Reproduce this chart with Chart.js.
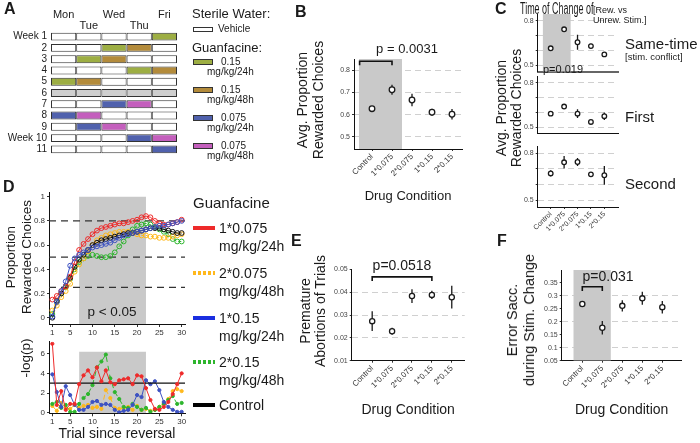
<!DOCTYPE html>
<html>
<head>
<meta charset="utf-8">
<script src="https://cdn.jsdelivr.net/npm/chart.js@4.4.1/dist/chart.umd.min.js"></script>
<style>
body { margin: 0; background: #fff; }
#fig { position: relative; width: 700px; height: 443px; overflow: hidden; font-family: 'Liberation Sans', Arial, sans-serif; color: #1a1a1a; }
.t { position: absolute; white-space: nowrap; line-height: 1; }
.sw { position: absolute; box-sizing: border-box; }
canvas { position: absolute; }
</style>
</head>
<body>
<div id="fig"></div>
<script>
// ---- data ----
const drugs = ['Control', '1*0.075', '2*0.075', '1*0.15', '2*0.15'];

// A: dosing schedule (v vehicle, s sterile only, a 0.15/24h, b 0.15/48h, c 0.075/24h, d 0.075/48h)
const weeks = ['Week 1', '2', '3', '4', '5', '6', '7', '8', '9', 'Week 10', '11'];
const days = ['Mon', 'Tue', 'Wed', 'Thu', 'Fri'];
const schedule = ['vvvva', 'vvabv', 'vabvv', 'vvvab', 'abvvv', 'sssss', 'vvcdv', 'cdvvv', 'vcdvv', 'vvvcd', 'vvvvc'];

// B
const rewMean = [0.627, 0.712, 0.666, 0.611, 0.602];
const rewErr = [0.010, 0.022, 0.028, 0.016, 0.024];

// C
const sameMean = [0.614, 0.742, 0.655, 0.629, 0.573];
const sameErr = [0.008, 0.008, 0.050, 0.015, 0.012];
const firstMean = [0.592, 0.640, 0.592, 0.536, 0.575];
const firstErr = [0.010, 0.015, 0.030, 0.010, 0.025];
const secondMean = [0.671, 0.742, 0.744, 0.665, 0.659];
const secondErr = [0.020, 0.040, 0.025, 0.008, 0.060];

// D
const trials = [1, 2, 3, 4, 5, 6, 7, 8, 9, 10, 11, 12, 13, 14, 15, 16, 17, 18, 19, 20, 21, 22, 23, 24, 25, 26, 27, 28, 29, 30];
const propOnce075 = [0.15, 0.18, 0.22, 0.26, 0.34, 0.46, 0.56, 0.61, 0.65, 0.69, 0.72, 0.74, 0.75, 0.76, 0.77, 0.78, 0.78, 0.79, 0.80, 0.81, 0.83, 0.84, 0.83, 0.80, 0.78, 0.77, 0.77, 0.78, 0.79, 0.81];
const propTwice075 = [0.06, 0.10, 0.17, 0.22, 0.28, 0.38, 0.44, 0.49, 0.55, 0.60, 0.64, 0.66, 0.68, 0.69, 0.70, 0.71, 0.71, 0.71, 0.70, 0.69, 0.68, 0.68, 0.67, 0.67, 0.66, 0.66, 0.66, 0.67, 0.68, 0.69];
const propOnce15 = [0.01, 0.13, 0.22, 0.30, 0.43, 0.49, 0.52, 0.54, 0.56, 0.58, 0.59, 0.60, 0.61, 0.62, 0.64, 0.66, 0.68, 0.69, 0.70, 0.71, 0.72, 0.73, 0.74, 0.75, 0.76, 0.76, 0.77, 0.78, 0.79, 0.80];
const propTwice15 = [0.03, 0.13, 0.20, 0.25, 0.32, 0.40, 0.46, 0.49, 0.51, 0.52, 0.51, 0.50, 0.50, 0.51, 0.54, 0.59, 0.63, 0.68, 0.73, 0.76, 0.77, 0.78, 0.77, 0.75, 0.73, 0.71, 0.69, 0.65, 0.63, 0.63];
const propControl = [0.00, 0.14, 0.20, 0.26, 0.33, 0.42, 0.48, 0.52, 0.56, 0.60, 0.62, 0.64, 0.65, 0.66, 0.67, 0.68, 0.69, 0.70, 0.70, 0.71, 0.72, 0.73, 0.74, 0.74, 0.74, 0.73, 0.72, 0.71, 0.70, 0.70];
const logpOnce075 = [7.0, 0.8, 2.2, 0.3, 0.9, 0.9, 2.9, 3.8, 4.3, 3.6, 4.6, 3.2, 4.3, 3.1, 2.9, 3.3, 3.4, 3.5, 2.9, 3.8, 3.7, 2.5, 1.3, 0.4, 0.3, 0.6, 1.1, 1.9, 2.9, 4.0];
const logpTwice075 = [0.7, 0.2, 1.0, 0.5, 0.4, 0.8, 0.5, 0.7, 0.8, 0.5, 0.6, 0.4, 2.3, 1.5, 0.5, 0.4, 0.5, 0.6, 0.3, 0.7, 0.3, 0.4, 0.2, 0.3, 0.6, 1.0, 1.4, 2.2, 2.4, 2.2];
const logpOnce15 = [3.9, 2.1, 0.6, 2.7, 1.8, 0.8, 0.3, 0.3, 0.6, 1.1, 1.2, 0.8, 0.9, 0.8, 0.3, 0.05, 0.2, 0.3, 0.8, 1.8, 1.6, 3.3, 2.9, 3.2, 2.3, 1.1, 0.6, 0.3, 0.1, 0.1];
const logpTwice15 = [0.9, 1.1, 0.5, 0.8, 0.1, 0.1, 0.9, 1.5, 1.9, 2.8, 4.6, 5.2, 5.9, 3.5, 2.1, 1.4, 0.6, 0.5, 0.9, 0.6, 0.3, 0.5, 0.1, 0.3, 0.6, 0.9, 1.3, 1.7, 0.9, 1.0];
const trialTicks = [1, 5, 10, 15, 20, 25, 30];
const refLines = [0.8, 0.5, 0.25];
const sigWindow = [7, 22];
const pThreshold = 3;

// E
const abortMean = [0.0273, 0.0229, 0.0383, 0.0388, 0.0378];
const abortErr = [0.0043, 0.0015, 0.0030, 0.0018, 0.0050];

// F
const saccMean = [0.268, 0.177, 0.261, 0.290, 0.256];
const saccErr = [0.008, 0.026, 0.022, 0.025, 0.024];

// ---- setup ----
const GRAY = '#c9c9c9';
const RED = '#ee2a2a', YEL = '#ffb81c', BLUE = '#3d52c2', GRN = '#2db52d', BLK = '#111';
const treatColor = { v: '#ffffff', s: '#cfcfcf', a: '#9dae43', b: '#b38b3b', c: '#5061ad', d: '#c45fbd' };
const fig = document.getElementById('fig');

Chart.defaults.font.family = "'Liberation Sans', Arial, sans-serif";
Chart.defaults.animation = false;
Chart.defaults.plugins.legend.display = false;
Chart.defaults.plugins.tooltip.enabled = false;

function canvasAt(x, y, w, h) {
  const c = document.createElement('canvas');
  c.width = w; c.height = h;
  c.style.left = x + 'px'; c.style.top = y + 'px';
  c.style.width = w + 'px'; c.style.height = h + 'px';
  fig.appendChild(c);
  return c.getContext('2d');
}

function text(str, x, y, size, opt = {}) {
  const d = document.createElement('div');
  d.className = 't';
  d.textContent = str;
  let tf = '';
  if (opt.align === 'right') tf += 'translateX(-100%) ';
  if (opt.align === 'center') tf += 'translateX(-50%) ';
  if (opt.sx) tf += 'scaleX(' + opt.sx + ')';
  d.style.cssText = 'left:' + x + 'px;top:' + (y - 0.85 * size) + 'px;font-size:' + size + 'px;' +
    (opt.bold ? 'font-weight:bold;' : '') + 'transform:' + (tf || 'none') + ';transform-origin:0 0;';
  fig.appendChild(d);
}

function vtext(lines, cx, cy, size, lh, sx) {
  const d = document.createElement('div');
  d.className = 't';
  d.innerHTML = lines.join('<br>');
  d.style.cssText = 'left:' + cx + 'px;top:' + cy + 'px;font-size:' + size + 'px;line-height:' + lh +
    'px;text-align:center;transform:translate(-50%,-50%) rotate(-90deg) scaleX(' + sx + ');';
  fig.appendChild(d);
}

function swatch(x, y, w, h, css) {
  const d = document.createElement('div');
  d.className = 'sw';
  d.style.cssText = 'left:' + x + 'px;top:' + y + 'px;width:' + w + 'px;height:' + h + 'px;' + css;
  fig.appendChild(d);
}

const near = (a, list) => list.some(v => Math.abs(v - a) < 1e-9);

// ---- A: schedule ----
new Chart(canvasAt(0, 0, 180, 165), {
  type: 'bar',
  data: {
    labels: weeks,
    datasets: days.map((d, j) => ({
      label: d,
      data: weeks.map(() => 1),
      backgroundColor: schedule.map(s => treatColor[s[j]]),
      borderColor: '#333',
      borderWidth: 1,
      borderSkipped: false,
      categoryPercentage: 1,
      barPercentage: 0.7
    }))
  },
  options: {
    responsive: false,
    indexAxis: 'y',
    layout: { padding: { top: 0, right: 3, bottom: 3, left: 0 } },
    scales: {
      x: {
        type: 'linear', position: 'top', stacked: true, min: 0, max: 5,
        afterBuildTicks: s => { s.ticks = days.map((d, i) => ({ value: i + 0.5 })); },
        afterFit: s => { s.height = 31; },
        ticks: { padding: 0, autoSkip: false, font: { size: 11, lineHeight: 1 }, color: '#222',
          callback: (v, i) => i % 2 === 0 ? [days[i], ''] : ['', days[i]] },
        grid: { display: false, drawTicks: false },
        border: { display: false }
      },
      y: {
        stacked: true,
        afterFit: s => { s.width = 51; },
        ticks: { padding: 4, autoSkip: false, font: { size: 10 }, color: '#222' },
        grid: { display: false, drawTicks: false },
        border: { display: false }
      }
    }
  }
});

// ---- dot plots (B, C, E, F) ----
function dotChart(ctx, o) {
  const pts = o.mean.map((v, i) => ({ x: i, y: v }));
  const bars = [];
  o.mean.forEach((v, i) => { bars.push({ x: i, y: v - o.err[i] }, { x: i, y: v + o.err[i] }, { x: i, y: null }); });
  const ds = [
    { data: pts, showLine: false, pointRadius: o.r, pointBorderWidth: 1.3, pointBorderColor: '#1a1a1a', pointBackgroundColor: '#fff' },
    { data: bars, borderColor: '#1a1a1a', borderWidth: 1.3, pointRadius: 0, spanGaps: false }
  ];
  if (o.bracket) {
    const [a, b, y, d] = o.bracket;
    ds.push({ data: [{ x: a, y: y - d }, { x: a, y: y }, { x: b, y: y }, { x: b, y: y - d }], borderColor: '#111', borderWidth: 1.6, pointRadius: 0 });
  }
  if (o.shade) {
    ds.push({ data: [{ x: o.shade[0], y: o.y[1] }, { x: o.shade[1], y: o.y[1] }], borderWidth: 0, borderColor: 'rgba(0,0,0,0)', pointRadius: 0, fill: 'start', backgroundColor: GRAY });
  }
  return new Chart(ctx, {
    type: 'line',
    data: { datasets: ds },
    options: {
      responsive: false,
      layout: { padding: o.pad },
      scales: {
        x: {
          type: 'linear', min: o.x[0], max: o.x[1],
          afterBuildTicks: s => { s.ticks = drugs.map((d, i) => ({ value: i })); },
          afterFit: s => { s.height = o.xh; },
          ticks: { display: o.xLabels, autoSkip: false, minRotation: 45, maxRotation: 45, padding: 1,
            font: { size: o.xf }, color: '#333', callback: v => drugs[v] },
          grid: { display: o.xLabels, drawOnChartArea: false, drawTicks: true, tickLength: 2, tickColor: '#333' },
          border: { display: true, color: o.axisColor || '#111', width: o.axisWidth || 1 },
          title: { display: !!o.xTitle, text: o.xTitle || '', font: { size: o.xts }, color: '#1a1a1a',
            padding: { top: 0, bottom: o.xtp || 0 } }
        },
        y: {
          type: 'linear', min: o.y[0], max: o.y[1],
          afterBuildTicks: s => { s.ticks = o.ticks.map(v => ({ value: v })); },
          afterFit: s => { s.width = o.yw; },
          ticks: { padding: 2, font: { size: 7 }, color: '#444',
            callback: v => near(v, o.shown || o.ticks) ? String(v) : '' },
          grid: { color: c => (c.tick && near(c.tick.value, o.grid)) ? '#d0d0d0' : 'rgba(0,0,0,0)',
            drawTicks: true, tickLength: 2, tickColor: '#333' },
          border: { display: true, color: '#111', width: 1, dash: [6, 4] }
        }
      }
    }
  });
}

// B
dotChart(canvasAt(290, 40, 180, 170), {
  mean: rewMean, err: rewErr, r: 2.8,
  x: [-0.9, 4.5], y: [0.446, 0.85],
  ticks: [0.5, 0.6, 0.7, 0.8], grid: [0.5, 0.6, 0.7, 0.8],
  shade: [-0.65, 1.5], bracket: [-0.62, 1, 0.84, 0.018],
  pad: { top: 19, right: 8, left: 0, bottom: 0 }, yw: 64, xh: 61,
  xLabels: true, xf: 8, xTitle: 'Drug Condition', xts: 13, xtp: 6
});

// C
const cCommon = { x: [-0.97, 5.02], y: [0.456, 0.845], ticks: [0.5, 0.6, 0.7, 0.8], shown: [0.5, 0.8], grid: [0.5, 0.6, 0.7, 0.8], r: 2.3, yw: 22.7 };
dotChart(canvasAt(515, 5, 110, 73), Object.assign({}, cCommon, {
  mean: sameMean, err: sameErr, shade: [-0.6, 1.5],
  pad: { top: 9, right: 7, left: 0, bottom: 0 }, xh: 2, xLabels: false, axisColor: '#666', axisWidth: 2
}));
dotChart(canvasAt(515, 70, 110, 70), Object.assign({}, cCommon, {
  mean: firstMean, err: firstErr,
  pad: { top: 6, right: 7, left: 0, bottom: 0 }, xh: 2, xLabels: false
}));
dotChart(canvasAt(515, 140, 110, 97), Object.assign({}, cCommon, {
  mean: secondMean, err: secondErr,
  pad: { top: 5, right: 7, left: 0, bottom: 0 }, xh: 30, xLabels: true, xf: 7
}));

// E
dotChart(canvasAt(330, 255, 140, 170), {
  mean: abortMean, err: abortErr, r: 2.6,
  x: [-1.03, 4.65], y: [0.01, 0.05],
  ticks: [0.01, 0.02, 0.03, 0.04, 0.05], grid: [0.02, 0.03, 0.04],
  bracket: [0, 3, 0.0467, 0.0018],
  pad: { top: 14.3, right: 5, left: 0, bottom: 0 }, yw: 21.7, xh: 64.3,
  xLabels: true, xf: 8, xTitle: 'Drug Condition', xts: 14, xtp: 6.6
});

// F
dotChart(canvasAt(540, 255, 160, 170), {
  mean: saccMean, err: saccErr, r: 2.6,
  x: [-1.03, 4.97], y: [0.05, 0.399],
  ticks: [0.05, 0.1, 0.15, 0.2, 0.25, 0.3, 0.35], grid: [0.1, 0.2, 0.3],
  shade: [-0.45, 1.43], bracket: [0, 1, 0.3346, 0.016],
  pad: { top: 15, right: 18.3, left: 0, bottom: 0 }, yw: 21.7, xh: 64.3,
  xLabels: true, xf: 8, xTitle: 'Drug Condition', xts: 14, xtp: 6.6
});

// ---- D: learning curves ----
const xy = arr => trials.map((t, i) => ({ x: t, y: arr[i] }));
function trialX(h, title) {
  return {
    type: 'linear', min: 0.25, max: 30.75,
    afterBuildTicks: s => { s.ticks = trialTicks.map(v => ({ value: v })); },
    afterFit: s => { s.height = h; },
    ticks: { padding: 1, font: { size: 8 }, color: '#333' },
    grid: { drawOnChartArea: false, drawTicks: true, tickLength: 3, tickColor: '#333' },
    border: { display: true, color: '#111', width: 1 },
    title: { display: !!title, text: title || '', font: { size: 14 }, color: '#1a1a1a', padding: { top: 0, bottom: 0 } }
  };
}
function curve(arr, color, dash, open) {
  return {
    data: xy(arr), borderColor: color, borderWidth: 1, borderDash: dash,
    pointRadius: open ? 2.4 : 1.6, pointBorderWidth: 1, pointBorderColor: color,
    pointBackgroundColor: open ? 'rgba(255,255,255,0)' : color
  };
}
const hline = (y, x0, x1, color, w, dash) => ({
  data: [{ x: x0, y: y }, { x: x1, y: y }], borderColor: color, borderWidth: w, borderDash: dash, pointRadius: 0
});

new Chart(canvasAt(0, 185, 190, 153), {
  type: 'line',
  data: {
    datasets: [
      curve(propOnce15, BLUE, [], true),
      curve(propOnce075, RED, [], true),
      curve(propControl, BLK, [], true),
      curve(propTwice075, YEL, [3, 2], true),
      curve(propTwice15, GRN, [3, 2], true),
      ...refLines.map(v => hline(v, 0.25, 30.75, '#333', 1.3, [7, 5])),
      { data: [{ x: sigWindow[0], y: 1 }, { x: sigWindow[1], y: 1 }], borderWidth: 0, borderColor: 'rgba(0,0,0,0)', pointRadius: 0, fill: 'start', backgroundColor: GRAY }
    ]
  },
  options: {
    responsive: false,
    layout: { padding: { top: 7, right: 5, left: 0, bottom: 0 } },
    scales: {
      x: trialX(14),
      y: {
        type: 'linear', min: -0.052, max: 1.039,
        afterBuildTicks: s => { s.ticks = [0, 0.2, 0.4, 0.6, 0.8, 1].map(v => ({ value: v })); },
        afterFit: s => { s.width = 49; },
        ticks: { padding: 2, font: { size: 8 }, color: '#333', callback: v => String(v) },
        grid: { drawOnChartArea: false, drawTicks: true, tickLength: 2, tickColor: '#333' },
        border: { display: true, color: '#111', width: 1 }
      }
    }
  }
});

new Chart(canvasAt(0, 335, 190, 108), {
  type: 'line',
  data: {
    datasets: [
      curve(logpOnce075, RED, [], false),
      hline(pThreshold, 0.25, 30.75, '#111', 1.3, []),
      curve(logpOnce15, BLUE, [], false),
      curve(logpTwice15, GRN, [5, 4], false),
      curve(logpTwice075, YEL, [5, 4], false),
      { data: [{ x: sigWindow[0], y: 6.2 }, { x: sigWindow[1], y: 6.2 }], borderWidth: 0, borderColor: 'rgba(0,0,0,0)', pointRadius: 0, fill: 'start', backgroundColor: GRAY }
    ]
  },
  options: {
    responsive: false,
    layout: { padding: { top: 6, right: 5, left: 0, bottom: 0 } },
    scales: {
      x: trialX(29.7, 'Trial since reversal'),
      y: {
        type: 'linear', min: -0.05, max: 7.2,
        afterBuildTicks: s => { s.ticks = [0, 2, 4, 6].map(v => ({ value: v })); },
        afterFit: s => { s.width = 49; },
        ticks: { padding: 2, font: { size: 8 }, color: '#333' },
        grid: { drawOnChartArea: false, drawTicks: true, tickLength: 2, tickColor: '#333' },
        border: { display: true, color: '#111', width: 1 }
      }
    }
  }
});

// ---- text & legends ----
text('A', 4, 15, 16, { bold: true });
text('Sterile Water:', 192, 18, 13);
swatch(193, 27, 20, 5, 'background:#fff;border:1px solid #333;');
text('Vehicle', 218, 32, 10);
text('Guanfacine:', 192, 52, 13);
[['a', '0.15', 'mg/kg/24h'], ['b', '0.15', 'mg/kg/48h'], ['c', '0.075', 'mg/kg/24h'], ['d', '0.075', 'mg/kg/48h']].forEach((e, i) => {
  const y = 65 + i * 28;
  swatch(193, y - 6.5, 20, 6, 'background:' + treatColor[e[0]] + ';border:1px solid #333;');
  text(e[1], 221, y, 10);
  text(e[2], 207, y + 10, 10);
});

text('B', 295, 18, 16, { bold: true });
text('p = 0.0031', 407, 53, 13, { align: 'center' });
vtext(['Avg. Proportion', 'Rewarded Choices'], 310, 100, 14, 15.5, 1);

text('C', 495, 15, 16, { bold: true });
text('Time of Change of', 520, 15, 16, { sx: 0.56 });
text('[Rew. vs', 593, 14, 9);
text('Unrew. Stim.]', 593, 24, 9);
text('Same-time', 625, 49, 15);
text('[stim. conflict]', 625, 60, 9.5);
text('First', 625, 122, 15);
text('Second', 625, 189, 15);
text('p=0.019', 543, 73, 11);
vtext(['Avg. Proportion', 'Rewarded Choices'], 509, 108, 14, 15, 1);

text('D', 3, 193, 16, { bold: true });
text('p < 0.05', 112, 316, 13.5, { align: 'center' });
vtext(['Proportion', 'Rewarded Choices'], 18.5, 257, 13.5, 16, 1);
vtext(['-log(p)'], 26, 358, 13.5, 16, 1);
text('Guanfacine', 193, 208, 15);
const dLegend = [
  ['1*0.075', 'mg/kg/24h', 'background:' + RED + ';'],
  ['2*0.075', 'mg/kg/48h', 'background:repeating-linear-gradient(90deg,' + YEL + ' 0 3px,transparent 3px 5px);'],
  ['1*0.15', 'mg/kg/24h', 'background:#1a2ee0;'],
  ['2*0.15', 'mg/kg/48h', 'background:repeating-linear-gradient(90deg,' + GRN + ' 0 3px,transparent 3px 5px);'],
  ['Control', null, 'background:#000;']
];
const dLegY = [228, 273, 318, 362, 405];
dLegend.forEach((e, i) => {
  const y = dLegY[i];
  swatch(193, y - 2, 22, 4, e[2]);
  text(e[0], 219, y + 5, 14);
  if (e[1]) text(e[1], 219, y + 23, 14);
});

text('E', 291, 247, 16, { bold: true });
text('p=0.0518', 402, 270, 14, { align: 'center' });
vtext(['Premature', 'Abortions of Trials'], 312.5, 310.5, 14, 15, 1);

text('F', 497, 247, 16, { bold: true });
text('p=0.031', 608, 281, 14, { align: 'center' });
vtext(['Error Sacc.', 'during Stim. Change'], 521, 320, 14.5, 17, 1);
</script>
</body>
</html>
